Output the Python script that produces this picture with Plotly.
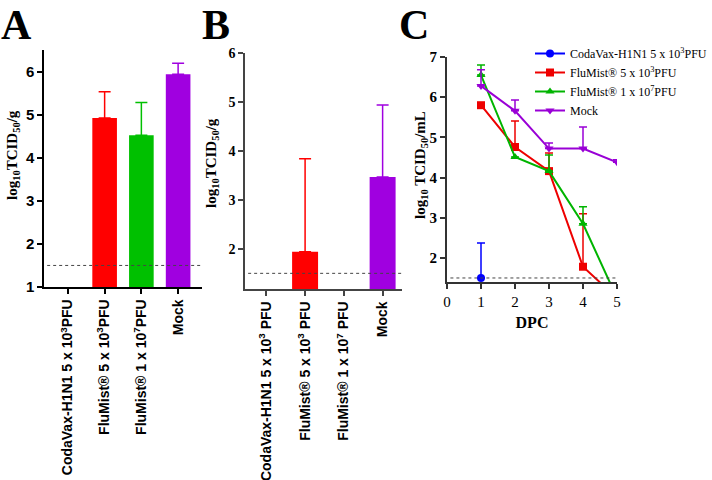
import plotly.graph_objects as go

# ---------------- data ----------------
cats_A = ["CodaVax-H1N1 5 x 10<sup>3</sup>PFU", "FluMist® 5 x 10<sup>3</sup>PFU",
          "FluMist® 1 x 10<sup>7</sup>PFU", "Mock"]
vals_A = [None, 4.92, 4.52, 5.94]
err_A = [0, 0.61, 0.76, 0.25]

cats_B = ["CodaVax-H1N1 5 x 10<sup>3</sup> PFU", "FluMist® 5 x 10<sup>3</sup> PFU",
          "FluMist® 1 x 10<sup>7</sup> PFU", "Mock"]
vals_B = [None, 1.94, None, 3.47]
err_B = [0, 1.90, 0, 1.47]

yticks_A = [1, 2, 3, 4, 5, 6]
yticks_B = [2, 3, 4, 5, 6]
yticks_C = [2, 3, 4, 5, 6, 7]
xticks_C = [0, 1, 2, 3, 4, 5]

bar_colors = ["#0000ff", "#ff0000", "#00c000", "#a000e0"]

dpc = [1, 2, 3, 4, 5]
series_names = ["CodaVax-H1N1 5 x 10<sup>3</sup>PFU", "FluMist® 5 x 10<sup>3</sup>PFU",
                "FluMist® 1 x 10<sup>7</sup>PFU", "Mock"]
coda_vals = [1.5, None, None, None, None]
coda_err = [0.87, 0, 0, 0, 0]
flu3_vals = [5.80, 4.76, 4.16, 1.78, 1.0]
flu3_err = [0, 0.65, 0.45, 1.32, 0]
flu7_vals = [6.55, 4.51, 4.16, 2.85, 1.0]
flu7_err = [0.25, 0, 0.40, 0.42, 0]
mock_vals = [6.28, 5.66, 4.72, 4.72, 4.38]
mock_err = [0.40, 0.27, 0.14, 0.54, 0.06]
line_colors = ["#0000ff", "#ee0000", "#00b400", "#9900d6"]
symbols = ["circle", "square", "triangle-up", "triangle-down"]

lod = 1.5

W, H = 712, 480
def px(x): return x / W
def py(y): return 1 - y / H

serif = "Liberation Serif, Times New Roman"
sans = "Liberation Sans, Arial"

def bold(lst):
    return [f"<b>{v}</b>" for v in lst]

fig = go.Figure()

# Panel A bars
fig.add_trace(go.Bar(
    x=cats_A, y=vals_A, marker=dict(color=bar_colors, line=dict(width=0)),
    width=0.67, showlegend=False, xaxis="x", yaxis="y"))
# Panel B bars
fig.add_trace(go.Bar(
    x=cats_B, y=vals_B, marker=dict(color=bar_colors, line=dict(width=0)),
    width=0.67, showlegend=False, xaxis="x2", yaxis="y2"))

def add_err(cats, vals, errs, xa, ya):
    for c, v, e, col in zip(cats, vals, errs, bar_colors):
        if v is None or e == 0:
            continue
        fig.add_trace(go.Scatter(
            x=[c], y=[v], mode="markers", marker=dict(size=0.1, color=col, opacity=0),
            error_y=dict(type="data", array=[e], arrayminus=[0], symmetric=False,
                         color=col, thickness=1.5, width=6),
            showlegend=False, xaxis=xa, yaxis=ya, hoverinfo="skip"))
add_err(cats_A, vals_A, err_A, "x", "y")
add_err(cats_B, vals_B, err_B, "x2", "y2")

# Panel C lines
allv = [coda_vals, flu3_vals, flu7_vals, mock_vals]
alle = [coda_err, flu3_err, flu7_err, mock_err]
for name, v, e, col, sym in zip(series_names, allv, alle, line_colors, symbols):
    fig.add_trace(go.Scatter(
        x=dpc, y=v, mode="lines+markers", name=name,
        line=dict(color=col, width=2),
        marker=dict(symbol=sym, size=8, color=col),
        error_y=dict(type="data", array=e, arrayminus=[0]*5, symmetric=False,
                     color=col, thickness=1.5, width=4),
        cliponaxis=True, xaxis="x3", yaxis="y3"))

ac = dict(showgrid=False, zeroline=False, showline=True, ticks="outside", ticklen=5,
          automargin=False)

fig.update_layout(
    template="none",
    width=W, height=H, margin=dict(l=0, r=0, t=0, b=0, autoexpand=False),
    paper_bgcolor="white", plot_bgcolor="white",
    xaxis=dict(domain=[px(44), px(202)], anchor="y", type="category",
               range=[-0.65, 3.65], tickangle=-90, linecolor="black", linewidth=1.5,
               tickcolor="black", tickwidth=1.5,
               tickvals=cats_A, ticktext=bold(cats_A),
               tickfont=dict(family=sans, size=14, color="black"), **ac),
    yaxis=dict(domain=[py(287), py(50)], anchor="x", range=[1, 6.5],
               tickvals=yticks_A, ticktext=bold(yticks_A), linecolor="black", linewidth=1.5,
               tickcolor="black", tickwidth=1.5,
               tickfont=dict(family=sans, size=15, color="black"), **ac),
    xaxis2=dict(domain=[px(245), px(402)], anchor="y2", type="category",
                range=[-0.55, 3.5], tickangle=-90, linecolor="#444", linewidth=1.5,
                tickcolor="#444", tickwidth=1.5,
                tickvals=cats_B, ticktext=bold(cats_B),
                tickfont=dict(family=sans, size=14, color="black"), **ac),
    yaxis2=dict(domain=[py(289), py(53)], anchor="x2", range=[1.18, 6],
                tickvals=yticks_B, ticktext=bold(yticks_B), linecolor="#444", linewidth=1.5,
                tickcolor="#444", tickwidth=1.5,
                tickfont=dict(family=serif, size=14, color="black"), **ac),
    xaxis3=dict(domain=[px(447), px(617)], anchor="y3", range=[0, 5],
                tickvals=xticks_C, linecolor="#333", linewidth=2,
                tickcolor="#333", tickwidth=1.5,
                tickfont=dict(family=serif, size=15, color="black"),
                title=dict(text="<b>DPC</b>", standoff=8,
                           font=dict(family=serif, size=16, color="black")), **ac),
    yaxis3=dict(domain=[py(282), py(57)], anchor="x3", range=[1.4, 7],
                tickvals=yticks_C, ticktext=bold(yticks_C), linecolor="#333", linewidth=2,
                tickcolor="#333", tickwidth=1.5,
                tickfont=dict(family=serif, size=15, color="black"), **ac),
    legend=dict(x=px(530), y=py(39), xanchor="left", yanchor="top",
                font=dict(family=serif, size=12, color="black"),
                bgcolor="rgba(0,0,0,0)", itemwidth=30, tracegroupgap=0),
    showlegend=True,
)

# dotted LOD lines
for xr, yr in [("x", "y"), ("x2", "y2"), ("x3", "y3")]:
    fig.add_shape(type="line", xref=f"{xr} domain", yref=yr, x0=0.02, x1=1, y0=lod, y1=lod,
                  line=dict(color="#444", width=1, dash="dot"))

# y titles
ytitles = [("<b>log<sub>10</sub>TCID<sub>50</sub>/g</b>", 13, 155),
           ("<b>log<sub>10</sub>TCID<sub>50</sub>/g</b>", 212, 163),
           ("<b>log<sub>10</sub> TCID<sub>50</sub>/mL</b>", 421, 165)]
for t, x, y in ytitles:
    fig.add_annotation(text=t, x=px(x), y=py(y), xref="paper", yref="paper",
                       textangle=-90, showarrow=False, xanchor="center", yanchor="middle",
                       font=dict(family=serif, size=15, color="black"))

# panel letters
for t, x in [("A", -1), ("B", 200), ("C", 397)]:
    fig.add_annotation(text=f"<b>{t}</b>", x=px(x), y=1, xref="paper", yref="paper",
                       showarrow=False, xanchor="left", yanchor="top",
                       font=dict(family=serif, size=42, color="black"))

fig.write_html("out.html", config={"displayModeBar": False},
               post_script="document.body.style.margin='0';")
